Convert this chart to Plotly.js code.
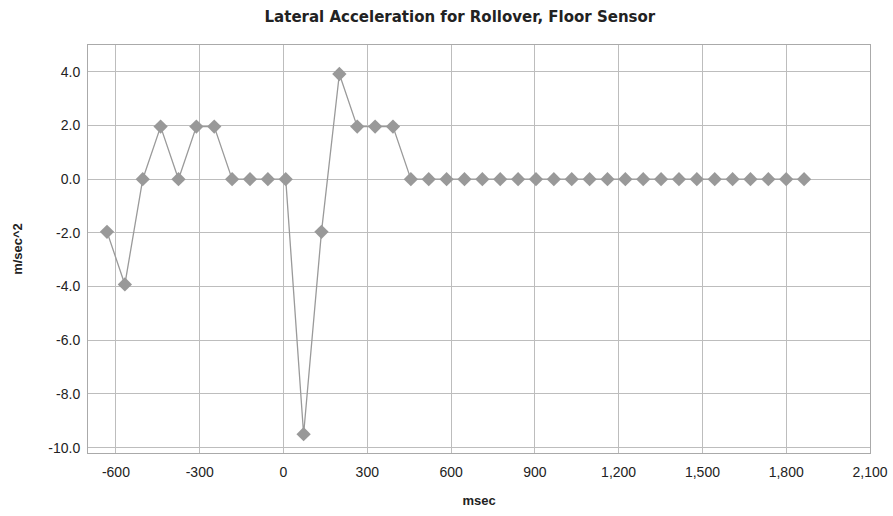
<!DOCTYPE html>
<html>
<head>
<meta charset="utf-8">
<script src="https://cdn.plot.ly/plotly-3.0.1.min.js"></script>
<style>html,body{margin:0;padding:0;background:#fff;}#chart{width:893px;height:516px;}</style>
</head>
<body>
<div id="chart"></div>
<script>
const timeMsec = [-632,-568,-504,-440,-376,-312,-248,-184,-120,-56,8,72,136,200,264,328,392,456,520,584,648,712,776,840,904,968,1032,1096,1160,1224,1288,1352,1416,1480,1544,1608,1672,1736,1800,1864];
const lateralAccel = [-1.96,-3.92,0,1.96,0,1.96,1.96,0,0,0,0,-9.5,-1.96,3.92,1.96,1.96,1.96,0,0,0,0,0,0,0,0,0,0,0,0,0,0,0,0,0,0,0,0,0,0,0];
const xTicks = [-600,-300,0,300,600,900,1200,1500,1800,2100];
const xTickLabels = ['-600','-300','0','300','600','900','1,200','1,500','1,800','2,100'];
const yTicks = [4,2,0,-2,-4,-6,-8,-10];
const yTickLabels = ['4.0','2.0','0.0','-2.0','-4.0','-6.0','-8.0','-10.0'];

const trace = {
  x: timeMsec, y: lateralAccel, type: 'scatter', mode: 'lines+markers',
  line: {color: '#9a9a9a', width: 1.3},
  marker: {symbol: 'diamond', size: 11, color: '#999999'},
  hoverinfo: 'x+y'
};
const font = "Liberation Sans, Arial, sans-serif";
const layout = {
  width: 893, height: 516,
  margin: {l: 88, r: 23, t: 45, b: 63},
  paper_bgcolor: '#fff', plot_bgcolor: '#fff',
  showlegend: false,
  font: {family: font, color: '#222', size: 12},
  title: {text: '<b>Lateral Acceleration for Rollover, Floor Sensor</b>', x: 0.515, xref: 'container', xanchor: 'center', y: 0.967, yref: 'container', yanchor: 'middle', font: {family: "DejaVu Sans, sans-serif", size: 15, color: '#222'}},
  xaxis: {
    range: [-700, 2100], tickvals: xTicks, ticktext: xTickLabels,
    showgrid: true, gridcolor: '#bdbdbd', gridwidth: 1,
    zeroline: false, showline: true, linecolor: '#aaaaaa', mirror: true,
    ticks: '', ticklabelstandoff: 6, tickfont: {size: 14, color: '#222'},
    title: {text: '<b>msec</b>', font: {size: 13, color: '#222'}, standoff: 17}
  },
  yaxis: {
    range: [-10.2, 5.0], tickvals: yTicks, ticktext: yTickLabels,
    showgrid: true, gridcolor: '#bdbdbd', gridwidth: 1,
    zeroline: false, showline: true, linecolor: '#aaaaaa', mirror: true,
    ticks: '', ticklabelstandoff: 4, tickfont: {size: 14, color: '#222'},
    title: {text: '<b>m/sec^2</b>', font: {size: 13, color: '#222'}, standoff: 22}
  }
};
Plotly.newPlot('chart', [trace], layout, {displayModeBar: false, staticPlot: true});
</script>
</body>
</html>
